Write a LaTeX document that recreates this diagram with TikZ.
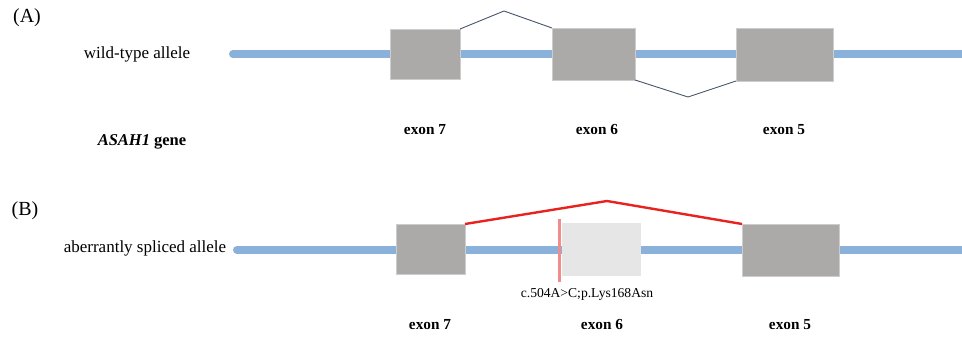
\documentclass[tikz,border=0pt]{standalone}
\usepackage{fontspec}
\setmainfont{Liberation Serif}
\definecolor{strand}{RGB}{138,177,217}
\definecolor{exonfill}{RGB}{171,170,169}
\definecolor{exonedge}{RGB}{205,205,205}
\definecolor{ghost}{RGB}{230,230,230}
\definecolor{wtsplice}{RGB}{68,84,106}
\definecolor{badsplice}{RGB}{232,35,31}
\definecolor{mutcol}{RGB}{240,140,140}
\begin{document}
\begin{tikzpicture}[x=1pt,y=-1pt,
  strandline/.style={draw=strand,line width=8pt,line cap=round},
  exonbox/.style={rectangle,fill=exonfill,draw=exonedge,line width=0.6pt,inner sep=0pt,outer sep=0pt},
  ghostbox/.style={rectangle,fill=ghost,draw=none,inner sep=0pt,outer sep=0pt},
  wtline/.style={draw=wtsplice,line width=0.9pt},
  badline/.style={draw=badsplice,line width=2.4pt,line join=miter},
  mutline/.style={draw=mutcol,line width=3pt},
  lbl/.style={font=\fontsize{17}{20}\selectfont,inner sep=0pt},
  panel/.style={font=\fontsize{20}{24}\selectfont,inner sep=0pt},
  exlbl/.style={font=\fontsize{15.3}{18}\selectfont\bfseries,inner sep=0pt},
  mutlbl/.style={font=\fontsize{13.6}{16}\selectfont,inner sep=0pt}]
\useasboundingbox (0,0) rectangle (962,337);
% strands
\coordinate (sa1) at (233,54);
\coordinate (sa2) at (975,54);
\coordinate (sb1) at (237,250);
\coordinate (sb2) at (975,250);
\draw[strandline] (sa1) -- (sa2);
\draw[strandline] (sb1) -- (sb2);
% panel A exons
\node[exonbox,minimum width=70pt,minimum height=50pt] (a7) at (425,54) {};
\node[exonbox,minimum width=83pt,minimum height=52pt] (a6) at (593.5,54) {};
\node[exonbox,minimum width=97pt,minimum height=53pt] (a5) at (784.5,54.5) {};
\coordinate (pa) at (504,11);
\coordinate (pb) at (688,97);
\draw[wtline] (a7.north east) -- (pa) -- (a6.north west);
\draw[wtline] (a6.south east) -- (pb) -- (a5.south west);
% panel B exons
\node[exonbox,minimum width=69pt,minimum height=50pt] (b7) at (430.5,249) {};
\node[ghostbox,minimum width=79pt,minimum height=53pt] (b6) at (601.5,249.5) {};
\node[exonbox,minimum width=97pt,minimum height=52pt] (b5) at (790.5,250) {};
\coordinate (pc) at (607,201);
\draw[badline] (b7.north east) -- (pc) -- (b5.north west);
\coordinate (m1) at (559,219);
\coordinate (m2) at (559,282);
\draw[mutline] (m1) -- (m2);
% labels
\node[panel] (tA) at (27,18) {(A)};
\node[panel] (tB) at (25,211) {(B)};
\node[lbl] (wt) at (137,54) {wild-type allele};
\node[lbl] (ab) at (145,248) {aberrantly spliced allele};
\node[lbl,font=\fontsize{16.5}{20}\selectfont\bfseries] (gene) at (142,142) {\textit{ASAH1} gene};
\node[exlbl] (ea7) at (425,130) {exon 7};
\node[exlbl] (ea6) at (597,130) {exon 6};
\node[exlbl] (ea5) at (784,130) {exon 5};
\node[exlbl] (eb7) at (430,325) {exon 7};
\node[exlbl] (eb6) at (602,325) {exon 6};
\node[exlbl] (eb5) at (790,325) {exon 5};
\node[mutlbl] (mut) at (587,294) {c.504A>C;p.Lys168Asn};
\end{tikzpicture}
\end{document}
